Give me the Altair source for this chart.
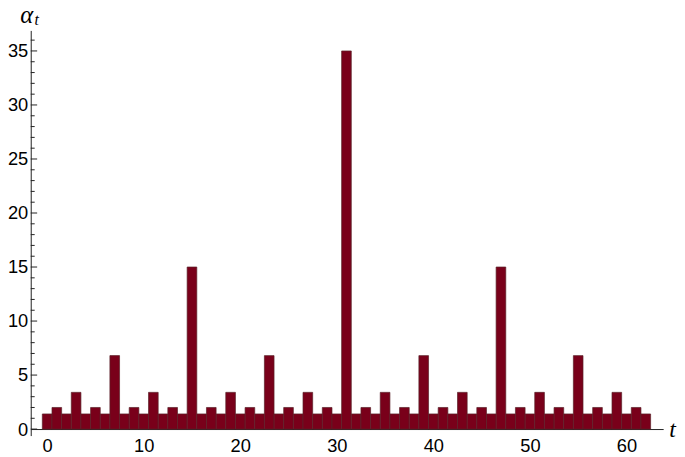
import altair as alt
import pandas as pd

# ---- data ----
t_values = list(range(63))
alpha_values = [
    1.4, 2, 1.4, 3.4, 1.4, 2, 1.4, 6.8,
    1.4, 2, 1.4, 3.4, 1.4, 2, 1.4, 15,
    1.4, 2, 1.4, 3.4, 1.4, 2, 1.4, 6.8,
    1.4, 2, 1.4, 3.4, 1.4, 2, 1.4, 35,
    1.4, 2, 1.4, 3.4, 1.4, 2, 1.4, 6.8,
    1.4, 2, 1.4, 3.4, 1.4, 2, 1.4, 15,
    1.4, 2, 1.4, 3.4, 1.4, 2, 1.4, 6.8,
    1.4, 2, 1.4, 3.4, 1.4, 2, 1.4,
]
x_tick_labels = [0, 10, 20, 30, 40, 50, 60]
y_major_ticks = [0, 5, 10, 15, 20, 25, 30, 35]
y_minor_ticks = [1, 2, 3, 4, 6, 7, 8, 9, 11, 12, 13, 14, 16, 17, 18, 19,
                 21, 22, 23, 24, 26, 27, 28, 29, 31, 32, 33, 34, 36]

df = pd.DataFrame({"t": t_values, "alpha": alpha_values})

W, H = 640, 410
FONT = "Liberation Sans, Arial, sans-serif"
AXIS_COLOR = "#222222"

xscale = alt.Scale(domain=[-1.7, 63.8], nice=False, zero=False)
yscale = alt.Scale(domain=[-0.6, 36.9], nice=False, zero=False)

yaxis = alt.Axis(
    values=y_major_ticks, ticks=False, tickSize=0, grid=False,
    domain=True, domainColor=AXIS_COLOR, domainWidth=1,
    labelFont=FONT, labelFontSize=18.5, labelColor="black", labelPadding=3,
    title=None,
)
xaxis = alt.Axis(
    values=x_tick_labels, ticks=False, tickSize=0, grid=False,
    domain=True, domainColor=AXIS_COLOR, domainWidth=1, offset=-6.6,
    labelFont=FONT, labelFontSize=18.5, labelColor="black", labelPadding=8,
    title="t", titleFont="Liberation Serif", titleFontStyle="italic",
    titleFontWeight="normal", titleFontSize=24, titleColor="black",
    titleX=W + 9, titleY=1, titleAlign="center", titleBaseline="middle", titleAngle=0,
)

bars = alt.Chart(df).transform_calculate(
    x0="datum.t - 0.5", x1="datum.t + 0.5"
).mark_rect(
    color="#79001a", stroke="#5a2229", strokeWidth=0.7
).encode(
    x=alt.X("x0:Q", scale=xscale, axis=xaxis),
    x2="x1:Q",
    y=alt.Y("alpha:Q", scale=yscale, axis=yaxis),
    y2=alt.datum(0),
)

major = alt.Chart(pd.DataFrame({"v": y_major_ticks})).mark_rule(
    color=AXIS_COLOR, strokeWidth=1
).encode(
    y=alt.Y("v:Q", scale=yscale, axis=yaxis),
    x=alt.value(0), x2=alt.value(6.5),
)

minor = alt.Chart(pd.DataFrame({"v": y_minor_ticks})).mark_rule(
    color=AXIS_COLOR, strokeWidth=1
).encode(
    y=alt.Y("v:Q", scale=yscale, axis=yaxis),
    x=alt.value(0), x2=alt.value(4),
)

alpha_lbl = alt.Chart(pd.DataFrame({"s": ["α"]})).mark_text(
    font="Liberation Serif", fontStyle="italic", fontSize=25,
    align="center", baseline="middle", color="black"
).encode(text="s:N", x=alt.value(-4), y=alt.value(-16))

sub_lbl = alt.Chart(pd.DataFrame({"s": ["t"]})).mark_text(
    font="Liberation Serif", fontStyle="italic", fontSize=16,
    align="center", baseline="middle", color="black"
).encode(text="s:N", x=alt.value(6), y=alt.value(-10))

chart = alt.layer(bars, minor, major, alpha_lbl, sub_lbl).properties(
    width=W, height=H,
    autosize=alt.AutoSizeParams(type="none"),
    padding={"left": 23, "top": 20, "right": 14, "bottom": 19},
    background="white",
).configure_view(stroke=None)

chart.save("out.html", embed_options={"renderer": "svg", "actions": False})
